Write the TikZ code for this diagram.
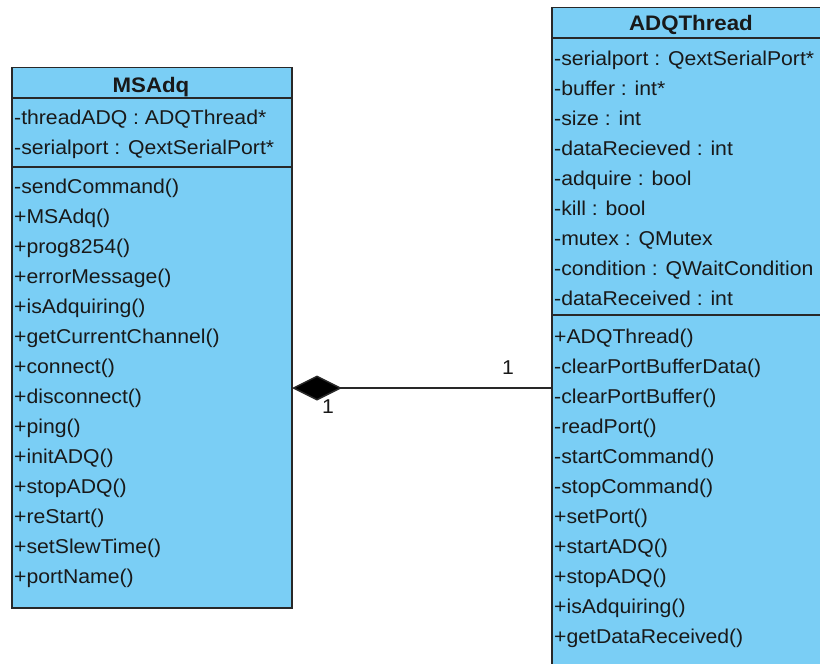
\documentclass[tikz,border=0pt]{standalone}
\usepackage{fontspec}
\setmainfont{Liberation Sans}[FakeStretch=1.06]
\usetikzlibrary{arrows.meta}
\definecolor{classfill}{RGB}{122,206,245}
\definecolor{classline}{RGB}{40,40,40}
\definecolor{textcol}{RGB}{25,25,25}

\begin{document}
\begin{tikzpicture}[x=1pt,y=-1pt,
  classbox/.style={draw=classline, fill=classfill, line width=1.5pt, rectangle,
                   anchor=north west, inner sep=0pt, outer sep=0pt},
  sepline/.style={draw=classline, line width=1.5pt},
  member/.style={anchor=base west, inner sep=0pt, text=textcol,
                 font=\fontsize{20}{20}\selectfont},
  classname/.style={anchor=base, inner sep=0pt, text=textcol,
                 font=\bfseries\fontsize{21}{21}\selectfont},
  mult/.style={anchor=base, inner sep=0pt, text=textcol,
                 font=\fontsize{20}{20}\selectfont},
  assoc/.style={draw=classline, line width=1.5pt}]
\useasboundingbox (0,0) rectangle (820,664);
\clip (0,0) rectangle (820,664);
\fill[white] (0,0) rectangle (820,664);

% ---- class MSAdq ----
\node[classbox, minimum width=280pt, minimum height=540.5pt] (msadq) at (12,67.5) {};
\node[classname] (msadq-name) at (151,92) {MSAdq};
\draw[sepline] (msadq.west |- 0,98) -- (msadq.east |- 0,98);
\draw[sepline] (msadq.west |- 0,167) -- (msadq.east |- 0,167);
\foreach \t [count=\i] in {-threadADQ : ADQThread*, -serialport : QextSerialPort*}
  \node[member] (msadq-a\i) at (14,{94+30*\i}) {\t};
\foreach \t [count=\i] in {-sendCommand(), +MSAdq(), +prog8254(), +errorMessage(),
    +isAdquiring(), +getCurrentChannel(), +connect(), +disconnect(), +ping(),
    +initADQ(), +stopADQ(), +reStart(), +setSlewTime(), +portName()}
  \node[member] (msadq-o\i) at (14,{163+30*\i}) {\t};

% ---- class ADQThread ----
\node[classbox, minimum width=276pt, minimum height=700pt] (adq) at (552,7.5) {};
\node[classname] (adq-name) at (691,30) {ADQThread};
\draw[sepline] (adq.west |- 0,38) -- (adq.east |- 0,38);
\draw[sepline] (adq.west |- 0,315) -- (adq.east |- 0,315);
\foreach \t [count=\i] in {-serialport : QextSerialPort*, -buffer : int*, -size : int,
    -dataRecieved : int, -adquire : bool, -kill : bool, -mutex : QMutex,
    -condition : QWaitCondition, -dataReceived : int}
  \node[member] (adq-a\i) at (554,{35+30*\i}) {\t};
\foreach \t [count=\i] in {+ADQThread(), -clearPortBufferData(), -clearPortBuffer(),
    -readPort(), -startCommand(), -stopCommand(), +setPort(), +startADQ(),
    +stopADQ(), +isAdquiring(), +getDataReceived()}
  \node[member] (adq-o\i) at (554,{313+30*\i}) {\t};

% ---- composition MSAdq <>-- ADQThread ----
\coordinate (whole) at (msadq.east |- 0,388);
\coordinate (part) at (adq.west |- 0,388);
\draw[assoc, {Diamond[length=50pt, width=25pt, fill=black]}-] (whole) -- (part);
\node[mult] (mult-part) at (508,374) {1};
\node[mult] (mult-whole) at (328,413) {1};
\end{tikzpicture}
\end{document}
